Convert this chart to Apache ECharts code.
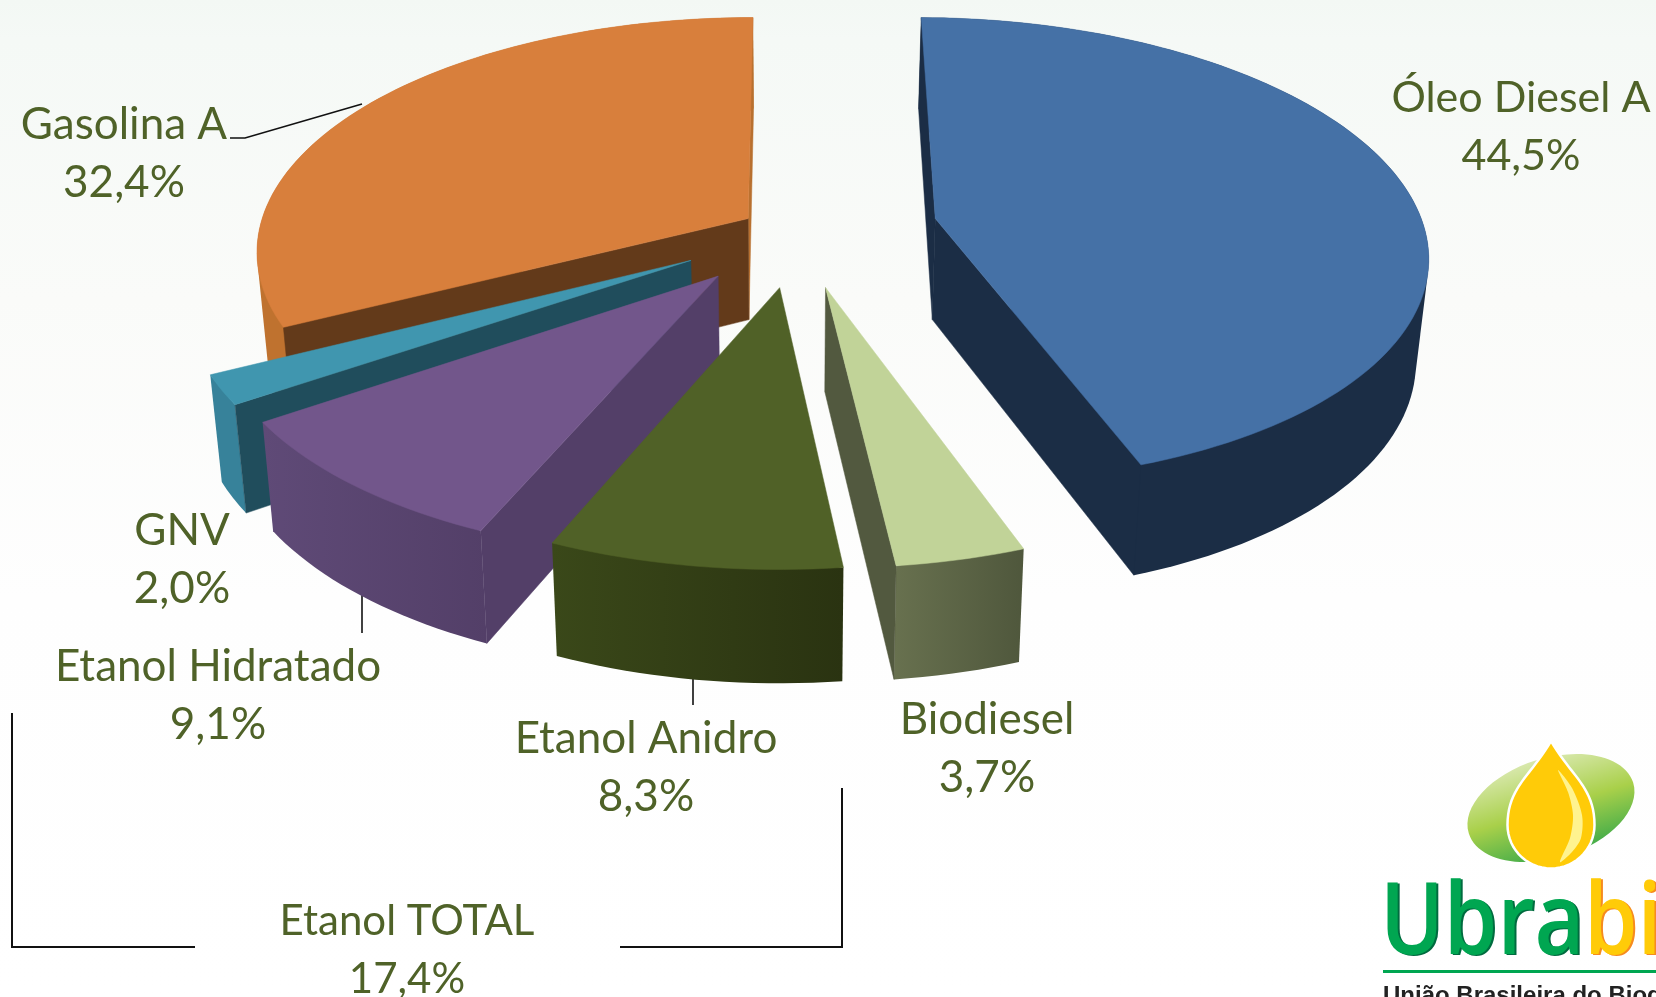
<!DOCTYPE html>
<html>
<head>
<meta charset="utf-8">
<style>html,body{margin:0;padding:0;background:#fff;overflow:hidden}#c{width:1656px;height:997px}</style>
<script src="https://cdn.jsdelivr.net/npm/echarts@6/dist/echarts.min.js"></script>
</head>
<body>
<div id="c"></div>
<script>
// ---- data ----
const categories = ['Óleo Diesel A', 'Biodiesel', 'Etanol Anidro', 'Etanol Hidratado', 'GNV', 'Gasolina A'];
const values = [44.5, 3.7, 8.3, 9.1, 2.0, 32.4];
const totalLabel = 'Etanol TOTAL';
const totalValue = 17.4;

// ---- painter's order (back to front), indices into categories ----
const drawOrder = [5, 0, 4, 3, 2, 1];

// ---- look of each slice (same order as categories) ----
const looks = [
  {top:'#4571A6', wallA:'#1B2D45', wallB:'#1B2D45', startWall:'#1B2D45', endWall:'#1B2D45', ex:0.303, ey:0, r:1, rot:0.45, font:43, label:[1521,127]},
  {top:'#C1D398', wallA:'#68714F', wallB:'#4F573C', endWall:'#52593F', ex:0.0742, ey:-0.291, r:0.98, font:44, label:[987,749]},
  {top:'#506127', wallA:'#3A4819', wallB:'#2A3311', ex:-0.0165, ey:-0.291, r:0.985, font:44, label:[646,768], leader:[[693,679],[693,705]]},
  {top:'#72568B', wallA:'#5F4A77', wallB:'#533F68', startWall:'#533F68', ex:-0.139, ey:-0.244, r:0.995, font:44, label:[218,696], leader:[[362,590],[362,633]]},
  {top:'#4096AF', wallA:'#37829A', wallB:'#37829A', startWall:'#204D5C', ex:-0.195, ey:-0.179, r:1, font:44, label:[182,560]},
  {top:'#D87F3C', wallA:'#BF722F', wallB:'#BF722F', startWall:'#633A1A', endWall:'#B8702F', ex:-0.082, ey:0, r:1, font:44, label:[124,154], leader:[[230,138],[245,138],[362,104]]}
];

// ---- perspective of the pie ----
const persp = {k:0.134, xv:788, y0:218.6, rx:486, ry:228, depth:101, depthSlope:10, shrink:0.98};
const textColor = '#4F6228';
const fontFamily = 'Lato, "Open Sans", sans-serif';

function project(X, Y) {
  const w = 1 / (1 + persp.k * Y);
  return [persp.xv + X * persp.rx * w, persp.y0 - Y * persp.ry * w];
}
function drop3d(p, Y) {
  return [persp.xv + (p[0] - persp.xv) * persp.shrink, p[1] + persp.depth - persp.depthSlope * Y];
}
function pct(v) { return v.toFixed(1).replace('.', ',') + '%'; }
function hull(points) {
  const p = points.slice().sort((a, b) => a[0] - b[0] || a[1] - b[1]);
  const cross = (o, a, b) => (a[0] - o[0]) * (b[1] - o[1]) - (a[1] - o[1]) * (b[0] - o[0]);
  const half = (list) => {
    const h = [];
    for (const q of list) {
      while (h.length >= 2 && cross(h[h.length - 2], h[h.length - 1], q) <= 0) h.pop();
      h.push(q);
    }
    h.pop();
    return h;
  };
  return half(p).concat(half(p.slice().reverse()));
}

const sum = values.reduce((a, b) => a + b, 0);
const starts = [];
values.reduce((acc, v, i) => { starts[i] = acc; return acc + v; }, 0);

function renderSlice(params, api) {
  const i = api.value(0);
  const v = api.value(1);
  const L = looks[i];
  const rot = (L.rot || 0) * Math.PI / 180;
  const a0 = starts[i] / sum * 2 * Math.PI + rot;
  const a1 = (starts[i] + v) / sum * 2 * Math.PI + rot;
  const rim = (a) => {
    const X = L.ex + L.r * Math.sin(a), Y = L.ey + L.r * Math.cos(a);
    const t = project(X, Y);
    return {t, b: drop3d(t, Y)};
  };
  const apexT = project(L.ex, L.ey);
  const apexB = drop3d(apexT, L.ey);
  const n = Math.max(8, Math.ceil((a1 - a0) / (Math.PI / 120)));
  const pts = [];
  for (let s = 0; s <= n; s++) pts.push(rim(a0 + (a1 - a0) * s / n));
  const children = [];
  const poly = (points, c) => ({type:'polygon', shape:{points}, style:{fill:c, stroke:c, lineWidth:0.5}});
  if (L.leader) children.push({type:'polyline', shape:{points:L.leader}, style:{stroke:'#111', lineWidth:1.6, fill:null}});
  // outer wall: silhouette of the rim, shaded left to right; the top face covers its hidden part
  const wallFill = new echarts.graphic.LinearGradient(0, 0, 1, 0, [{offset:0, color:L.wallA}, {offset:1, color:L.wallB}]);
  children.push({type:'polygon', shape:{points:hull(pts.map(p => p.t).concat(pts.map(p => p.b)))}, style:{fill:wallFill}});
  // cut faces that the viewer can see
  if (L.endWall) children.push(poly([apexT, pts[n].t, pts[n].b, apexB], L.endWall));
  if (L.startWall) children.push(poly([apexT, pts[0].t, pts[0].b, apexB], L.startWall));
  // top face
  children.push(poly([apexT].concat(pts.map(p => p.t)), L.top));
  // label
  children.push({type:'text', style:{
    text: categories[i] + '\n' + pct(v), x:L.label[0], y:L.label[1],
    align:'center', verticalAlign:'middle', font:L.font + 'px ' + fontFamily, lineHeight:58, fill:textColor
  }});
  return {type:'group', children};
}

// ---- logo helpers ----
function dropShape(cx, apexY, cy, R) {
  const bez = (p0, p1, p2, p3, t) => {
    const u = 1 - t;
    return u*u*u*p0 + 3*u*u*t*p1 + 3*u*t*t*p2 + t*t*t*p3;
  };
  const side = (sign, t) => [bez(cx, cx + sign * 20, cx + sign * R, cx + sign * R, t), bez(apexY, apexY + 35, cy - 38, cy, t)];
  const out = [];
  for (let t = 0; t <= 1.001; t += 0.05) out.push(side(1, t));
  for (let a = 0; a <= 180; a += 6) out.push([cx + R * Math.cos(a * Math.PI / 180), cy + R * Math.sin(a * Math.PI / 180)]);
  for (let t = 1; t >= -0.001; t -= 0.05) out.push(side(-1, t));
  return out;
}
const logoFont = '600 100px "Open Sans", "Liberation Sans", sans-serif';
const logoText = (t, x, y, fill) => ({type:'text', x, y, scaleX:0.86, scaleY:1, z:10,
  style:{text:t, x:0, y:0, font:logoFont, fill, align:'left', verticalAlign:'bottom'}});

const chart = echarts.init(document.getElementById('c'), null, {renderer:'canvas', width:1656, height:997});
const bracket = (points) => ({type:'polyline', z:5, shape:{points}, style:{stroke:'#111', lineWidth:2, fill:null}});
chart.setOption({
  animation:false,
  backgroundColor:new echarts.graphic.LinearGradient(0, 0, 0, 1, [
    {offset:0, color:'#F3F8F4'}, {offset:0.04, color:'#F5F9F6'}, {offset:0.3, color:'#FAFBF9'}, {offset:0.6, color:'#FEFEFE'}, {offset:1, color:'#FFFFFF'}
  ]),
  series:[{
    type:'custom', coordinateSystem:'none', renderItem:renderSlice, silent:true,
    data:drawOrder.map(i => [i, values[i]])
  }],
  graphic:{elements:[
    bracket([[12,713],[12,947],[195,947]]),
    bracket([[620,947],[842,947],[842,788]]),
    {type:'text', z:5, style:{text:totalLabel + '\n' + pct(totalValue), x:407, y:950, align:'center', verticalAlign:'middle', font:'42px ' + fontFamily, lineHeight:58, fill:textColor}},
    // logo
    {type:'ellipse', z:10, x:1551, y:808, rotation:0.3, shape:{cx:0, cy:0, rx:86, ry:50},
      style:{fill:new echarts.graphic.LinearGradient(0, 0, 0, 1, [{offset:0, color:'#D8E8AC'}, {offset:0.5, color:'#A9D04A'}, {offset:1, color:'#3FAB49'}])}},
    {type:'polygon', z:11, shape:{points:dropShape(1551, 741, 825, 43.5)}, style:{fill:'#FFCB08', stroke:'#fff', lineWidth:2.5}},
    {type:'polygon', z:12, shape:{smooth:0.3, points:[[1558,770],[1572,788],[1582,815],[1581,838],[1572,852],[1560,862],[1570,838],[1573,815],[1568,792]]}, style:{fill:'#FFF38F'}},
    logoText('Ubra', 1382, 977, '#006B3F'),
    logoText('Ubra', 1380, 976, '#00A651'),
    logoText('bi', 1586, 977, '#F68B1F'),
    logoText('bi', 1584, 976, '#FFCB08'),
    {type:'rect', z:10, shape:{x:1383, y:970, width:273, height:3}, style:{fill:'#00A651'}},
    {type:'text', z:10, style:{text:'União Brasileira do Biodiesel', x:1383, y:1008, font:'bold 24px "Liberation Sans", sans-serif', fill:'#222', align:'left', verticalAlign:'bottom'}}
  ]}
});
</script>
</body>
</html>
